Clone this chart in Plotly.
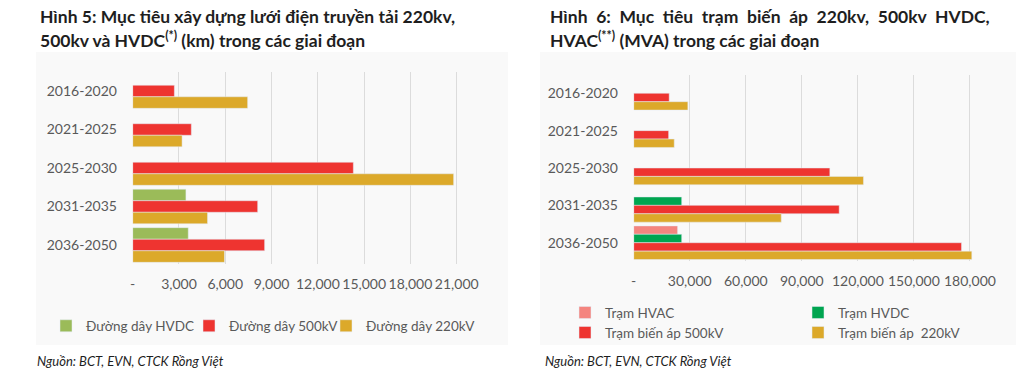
import plotly.graph_objects as go

# ---------------- data ----------------
periods = ["2016-2020", "2021-2025", "2025-2030", "2031-2035", "2036-2050"]

# Figure 5 (km)
line_hvdc = [None, None, None, 3450, 3600]
line_500 = [2700, 3800, 14300, 8100, 8550]
line_220 = [7450, 3200, 20800, 4850, 5950]
left_ticks = [0, 3000, 6000, 9000, 12000, 15000, 18000, 21000]
left_ticktext = ["-", "3,000", "6,000", "9,000", "12,000", "15,000", "18,000", "21,000"]

# Figure 6 (MVA)
st_hvac = [None, None, None, None, 23500]
st_hvdc = [None, None, None, 25700, 25700]
st_500 = [19000, 18700, 105000, 110000, 175500]
st_220 = [29000, 21700, 123000, 79000, 181000]
right_ticks = [0, 30000, 60000, 90000, 120000, 150000, 180000]
right_ticktext = ["-", "30,000", "60,000", "90,000", "120,000", "150,000", "180,000"]

# ---------------- style ----------------
W, H = 1020, 386
FONT = "Lato"
GRAY = "#595959"
DARK = "#1e1e1e"
C_GREEN_L = "#9BBB59"
C_RED = "#EE3430"
C_YEL = "#DCA92A"
C_PINK = "#F4857F"
C_GREEN_R = "#00A550"


def px(x):
    return x / W


def py(y):
    return 1 - y / H


fig = go.Figure()

# left chart
fig.add_trace(go.Bar(y=periods, x=line_hvdc, name="Đường dây HVDC", orientation="h",
                     marker_color=C_GREEN_L, xaxis="x", yaxis="y", legend="legend"))
fig.add_trace(go.Bar(y=periods, x=line_500, name="Đường dây 500kV", orientation="h",
                     marker_color=C_RED, xaxis="x", yaxis="y", legend="legend2"))
fig.add_trace(go.Bar(y=periods, x=line_220, name="Đường dây 220kV", orientation="h",
                     marker_color=C_YEL, xaxis="x", yaxis="y", legend="legend3"))

# right chart
fig.add_trace(go.Bar(y=periods, x=st_hvac, name="Trạm HVAC", orientation="h",
                     marker_color=C_PINK, xaxis="x2", yaxis="y2", legend="legend4"))
fig.add_trace(go.Bar(y=periods, x=st_hvdc, name="Trạm HVDC", orientation="h",
                     marker_color=C_GREEN_R, xaxis="x2", yaxis="y2", legend="legend5"))
fig.add_trace(go.Bar(y=periods, x=st_500, name="Trạm biến áp 500kV", orientation="h",
                     marker_color=C_RED, xaxis="x2", yaxis="y2", legend="legend6"))
fig.add_trace(go.Bar(y=periods, x=st_220, name="Trạm biến áp  220kV", orientation="h",
                     marker_color=C_YEL, xaxis="x2", yaxis="y2", legend="legend7"))

tickfont = dict(family=FONT, size=14, color=GRAY)
xcommon = dict(showgrid=True, gridcolor="#dcdcdc", gridwidth=1, zeroline=False,
               showline=False, ticks="outside", ticklen=7, tickcolor="rgba(0,0,0,0)",
               tickfont=tickfont, fixedrange=True, tickangle=0, automargin=False)
ycommon = dict(type="category", autorange="reversed", showgrid=False, zeroline=False,
               showline=False, ticks="outside", ticklen=12, tickcolor="rgba(0,0,0,0)",
               tickfont=tickfont, fixedrange=True, automargin=False)

legend_common = dict(orientation="h", font=dict(family=FONT, size=13.5, color=GRAY),
                     bgcolor="rgba(0,0,0,0)", xanchor="left", yanchor="middle",
                     itemclick=False, itemdoubleclick=False)

# legend positions (left px of legend box, centre y px)
legend_pos = {
    "legend": (46, 326), "legend2": (189, 326), "legend3": (326, 326),
    "legend4": (565, 312.7), "legend5": (798, 312.7),
    "legend6": (565, 332.7), "legend7": (798, 332.7),
}
legends = {k: dict(x=px(x), y=py(y), **legend_common) for k, (x, y) in legend_pos.items()}

fig.update_layout(
    width=W, height=H,
    margin=dict(l=0, r=0, t=0, b=0, autoexpand=False),
    paper_bgcolor="white",
    plot_bgcolor="rgba(0,0,0,0)",
    barmode="group", bargap=0.1, bargroupgap=0,
    font=dict(family=FONT, color=GRAY),
    xaxis=dict(domain=[px(132.7), px(132.7 + 22 * 15.43)], range=[0, 22000],
               tickvals=left_ticks, ticktext=left_ticktext, anchor="y", **xcommon),
    yaxis=dict(domain=[py(264.25), py(71.75)], anchor="x", **ycommon),
    xaxis2=dict(domain=[px(633.7), px(633.7 + 190 * 1.868)], range=[0, 190000],
                tickvals=right_ticks, ticktext=right_ticktext, anchor="y2", **xcommon),
    yaxis2=dict(domain=[py(261.4), py(74.6)], anchor="x2", **ycommon),
    showlegend=True,
    **legends,
)

# faint background panels
for x0, x1 in [(36, 508), (540, 1016)]:
    fig.add_shape(type="rect", xref="paper", yref="paper",
                  x0=px(x0), x1=px(x1), y0=py(345), y1=py(52),
                  fillcolor="#f9f9f9", line_width=0, layer="below")

GAP = " \u2005"
title_font = dict(family=FONT, size=17.5, color=DARK)
right_l1 = GAP.join(["Hình", "6:", "Mục", "tiêu", "trạm", "biến", "áp",
                     "220kv,", "500kv", "HVDC,"])
titles = [
    (37.5, 16, "<b>Hình 5: Mục tiêu xây dựng lưới điện truyền tải 220kv,</b>"),
    (37.5, 39, "<b>500kv và HVDC<sup>(*)</sup> (km) trong các giai đoạn</b>"),
    (547.5, 16, "<b>" + right_l1 + "</b>"),
    (547.5, 39, "<b>HVAC<sup>(**)</sup> (MVA) trong các giai đoạn</b>"),
]
for x, y, t in titles:
    fig.add_annotation(text=t, xref="paper", yref="paper", x=px(x), y=py(y),
                       xanchor="left", yanchor="middle", showarrow=False,
                       font=title_font)

for x in [35, 543]:
    fig.add_annotation(text="<i>Nguồn: BCT, EVN, CTCK Rồng Việt</i>", xref="paper",
                       yref="paper", x=px(x), y=py(361), xanchor="left",
                       yanchor="middle", showarrow=False,
                       font=dict(family=FONT, size=13, color=DARK))

fig.write_html("out.html", config={"displayModeBar": False},
               post_script="document.body.style.margin='0';")
